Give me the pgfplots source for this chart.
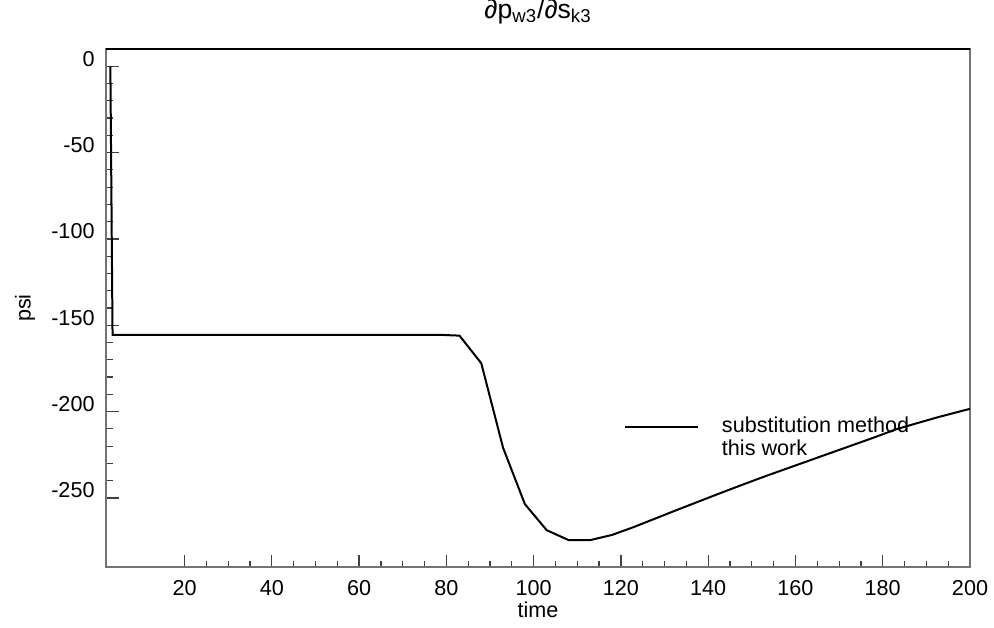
\documentclass[border=0pt]{standalone}
\usepackage{fontspec}
\setmainfont{Liberation Sans}
\setsansfont{Liberation Sans}
\usepackage{pgfplots}
\pgfplotsset{compat=1.18}
\begin{document}
\begin{tikzpicture}
  \path[use as bounding box] (-53pt,-30pt) rectangle (444pt,283.5pt);
  \begin{axis}[
    scale only axis,
    width=432pt,
    height=259pt,
    xmin=2, xmax=200,
    ymin=-290, ymax=10,
    font=\fontsize{10.8}{13}\selectfont,
    /pgf/number format/assume math mode=true,
    xtick={20,40,...,200},
    ytick={-250,-200,...,0},
    minor x tick num=3,
    minor y tick num=4,
    tick pos=left,
    tick align=inside,
    major tick length=6.25pt,
    minor tick length=3.25pt,
    tick style={black!75, line width=0.6pt},
    axis line style={black!55, line width=0.7pt},
    xticklabel style={yshift=-3pt},
    yticklabel style={anchor=base east, xshift=-2.2pt},
    title={∂p\textsubscript{w3}/∂s\textsubscript{k3}},
    title style={at={(axis description cs:0.5,1.036)}, anchor=base, inner sep=0pt,
      font=\fontsize{13.3}{16}\selectfont},
    xlabel={time},
    xlabel style={at={(axis description cs:0.5,-0.083)}, anchor=center, inner sep=0pt},
    ylabel={psi},
    ylabel style={at={(axis description cs:-0.0938,0.5)}, anchor=center, inner sep=0pt},
    legend cell align=left,
    legend style={
      draw=none, fill=none,
      at={(axis description cs:0.5995,0.2933)}, anchor=north west,
      inner sep=0pt, outer sep=0pt,
      column sep=11pt,
      nodes={inner sep=0.5pt, text height=8pt, text depth=2.5pt}
    },
    legend image code/.code={\draw[#1] (0pt,0pt) -- (36.5pt,0pt);}
  ]
    \addplot[black, line width=1pt] coordinates {
      (3,0) (3.5,-155.5) (10,-155.5) (30,-155.5) (50,-155.5) (70,-155.5)
      (78,-155.5) (83,-156) (88,-172) (93,-221) (98,-253.6) (103,-268.7)
      (108,-274.4) (113,-274.4) (118,-271.4) (123,-266.8) (128,-261.8)
      (133,-256.8) (138,-251.9) (143,-247.0) (148,-242.2) (153,-237.5)
      (158,-233.0) (163,-228.5) (168,-224.0) (173,-219.5) (178,-215.0)
      (183,-210.3) (188,-206.6) (193,-203.0) (198,-199.7) (200,-198.4)
    };
    \addlegendentry{substitution method}
    \addlegendimage{empty legend}
    \addlegendentry{this work}
    \draw[black, line width=0.8pt] (rel axis cs:0,1) -- (rel axis cs:1,1);
  \end{axis}
\end{tikzpicture}
\end{document}
